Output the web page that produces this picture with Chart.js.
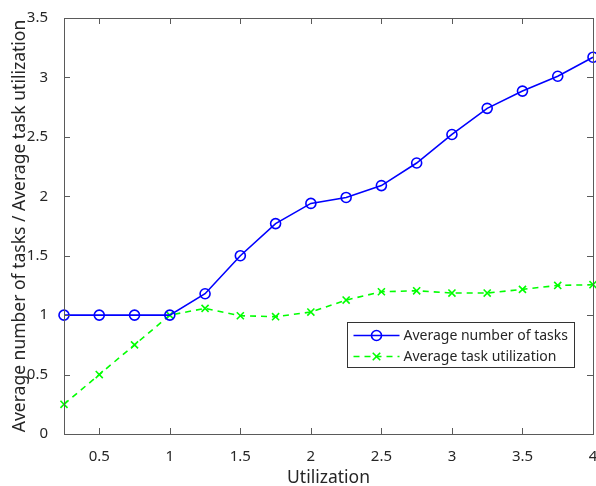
<!DOCTYPE html>
<html>
<head>
<meta charset="utf-8">
<script src="https://cdn.jsdelivr.net/npm/chart.js@4"></script>
<style>
  html, body { margin: 0; padding: 0; background: #fff; }
  #wrap { width: 596px; height: 486px; }
</style>
</head>
<body>
<div id="wrap"><canvas id="chart" width="596" height="486"></canvas></div>
<script>
// utilization levels on the x axis
const utilization = [0.25, 0.5, 0.75, 1, 1.25, 1.5, 1.75, 2, 2.25, 2.5, 2.75, 3, 3.25, 3.5, 3.75, 4];
// average number of tasks per utilization level
const avgTasks = [1, 1, 1, 1, 1.18, 1.5, 1.77, 1.94, 1.99, 2.09, 2.28, 2.52, 2.74, 2.885, 3.01, 3.17];
// average task utilization per level
const avgTaskUtil = [0.25, 0.5, 0.75, 1, 1.057, 0.995, 0.987, 1.026, 1.127, 1.197, 1.205, 1.186, 1.186, 1.217, 1.25, 1.256];

const xTicks = [0.5, 1, 1.5, 2, 2.5, 3, 3.5, 4];
const yTicks = [0, 0.5, 1, 1.5, 2, 2.5, 3, 3.5];
const seriesNames = ['Average number of tasks', 'Average task utilization'];

const FONT = "'Noto Sans', 'Open Sans', sans-serif";
const AXIS_COLOR = '#5a5a5a';
const TEXT_COLOR = '#262626';

const toPoints = ys => utilization.map((x, i) => ({ x: x, y: ys[i] }));

// box around the plot area with inward tick marks on all four sides
const boxTicks = {
  id: 'boxTicks',
  afterDatasetsDraw(chart) {
    const { ctx, chartArea: a, scales } = chart;
    const len = 6;
    ctx.save();
    ctx.strokeStyle = AXIS_COLOR;
    ctx.lineWidth = 1;
    ctx.strokeRect(a.left + 0.5, a.top + 0.5, a.right - a.left, a.bottom - a.top);
    ctx.beginPath();
    xTicks.forEach(v => {
      const px = Math.round(scales.x.getPixelForValue(v)) + 0.5;
      ctx.moveTo(px, a.bottom); ctx.lineTo(px, a.bottom - len);
      ctx.moveTo(px, a.top); ctx.lineTo(px, a.top + len);
    });
    yTicks.forEach(v => {
      const py = Math.round(scales.y.getPixelForValue(v)) + 0.5;
      ctx.moveTo(a.left, py); ctx.lineTo(a.left + len, py);
      ctx.moveTo(a.right, py); ctx.lineTo(a.right - len, py);
    });
    ctx.stroke();
    ctx.restore();
  }
};

// legend box in the lower right of the plot
const boxLegend = {
  id: 'boxLegend',
  afterDraw(chart) {
    const { ctx } = chart;
    const x0 = 347.5, y0 = 322.5, w = 227, h = 45;
    ctx.save();
    ctx.fillStyle = '#fff';
    ctx.fillRect(x0, y0, w, h);
    ctx.strokeStyle = '#333';
    ctx.lineWidth = 1;
    ctx.strokeRect(x0, y0, w, h);
    ctx.font = '14px ' + FONT;
    ctx.textBaseline = 'middle';
    chart.data.datasets.forEach((ds, i) => {
      const cy = y0 + 13 + i * 21;
      const lx1 = x0 + 6, lx2 = x0 + 52, mx = (lx1 + lx2) / 2;
      ctx.strokeStyle = ds.borderColor;
      ctx.lineWidth = ds.borderWidth;
      ctx.setLineDash(ds.borderDash || []);
      ctx.beginPath();
      ctx.moveTo(lx1, cy); ctx.lineTo(lx2, cy);
      ctx.stroke();
      ctx.setLineDash([]);
      ctx.lineWidth = ds.pointBorderWidth;
      ctx.beginPath();
      if (ds.pointStyle === 'circle') {
        ctx.arc(mx, cy, ds.pointRadius, 0, Math.PI * 2);
      } else {
        const r = ds.pointRadius * 0.75;
        ctx.moveTo(mx - r, cy - r); ctx.lineTo(mx + r, cy + r);
        ctx.moveTo(mx + r, cy - r); ctx.lineTo(mx - r, cy + r);
      }
      ctx.stroke();
      ctx.fillStyle = TEXT_COLOR;
      ctx.fillText(ds.label, x0 + 56, cy + 1);
    });
    ctx.restore();
  }
};

new Chart(document.getElementById('chart'), {
  type: 'line',
  data: {
    datasets: [
      {
        label: seriesNames[0],
        data: toPoints(avgTasks),
        borderColor: '#0000ff',
        borderWidth: 1.6,
        pointStyle: 'circle',
        pointRadius: 5,
        pointBorderWidth: 1.6,
        pointBackgroundColor: 'rgba(0,0,0,0)',
        pointBorderColor: '#0000ff',
        clip: false
      },
      {
        label: seriesNames[1],
        data: toPoints(avgTaskUtil),
        borderColor: '#00ff00',
        borderWidth: 1.6,
        borderDash: [6, 5],
        pointStyle: 'crossRot',
        pointRadius: 5,
        pointBorderWidth: 1.6,
        pointBorderColor: '#00ff00',
        clip: false
      }
    ]
  },
  plugins: [boxTicks, boxLegend],
  options: {
    responsive: false,
    animation: false,
    layout: { autoPadding: false, padding: { left: 0, top: 18, right: 3, bottom: 0 } },
    plugins: { legend: { display: false }, tooltip: { enabled: false } },
    scales: {
      x: {
        type: 'linear',
        min: 0.25,
        max: 4,
        afterBuildTicks: s => { s.ticks = xTicks.map(v => ({ value: v })); },
        // fixed axis band; no extra room for the edge labels
        afterFit: s => { s.height = 52; s.paddingLeft = 0; s.paddingRight = 0; },
        grid: { display: false },
        border: { display: false },
        ticks: {
          padding: 6,
          color: TEXT_COLOR,
          font: { family: FONT, size: 15 },
          callback: v => String(v)
        },
        title: {
          display: true,
          text: 'Utilization',
          color: TEXT_COLOR,
          font: { family: FONT, size: 17.5 },
          padding: { top: 0, bottom: -3 }
        }
      },
      y: {
        min: 0,
        max: 3.5,
        afterBuildTicks: s => { s.ticks = yTicks.map(v => ({ value: v })); },
        afterFit: s => { s.width = 64; s.paddingTop = 0; s.paddingBottom = 0; },
        grid: { display: false },
        border: { display: false },
        ticks: {
          padding: 8,
          color: TEXT_COLOR,
          font: { family: FONT, size: 15 },
          callback: v => String(v)
        },
        title: {
          display: true,
          text: 'Average number of tasks / Average task utilization',
          color: TEXT_COLOR,
          font: { family: FONT, size: 17.5 },
          padding: { top: 10, bottom: 0 }
        }
      }
    }
  }
});
</script>
</body>
</html>
